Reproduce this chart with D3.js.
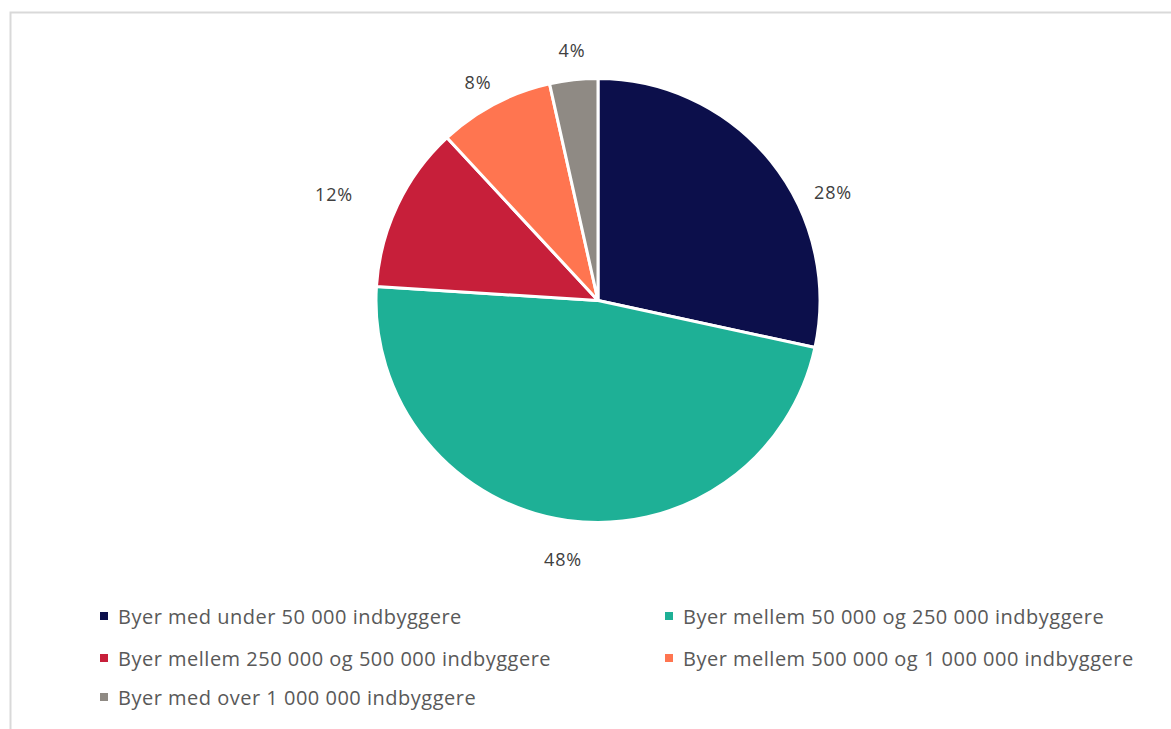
<!DOCTYPE html>
<html><head><meta charset="utf-8">
<script src="https://cdn.jsdelivr.net/npm/d3@7"></script>
<style>body{margin:0;background:#fff;}svg{display:block;}</style>
</head><body><svg id="c" width="1171" height="729"></svg>
<script>
const categories = [
  "Byer med under 50 000 indbyggere",
  "Byer mellem 50 000 og 250 000 indbyggere",
  "Byer mellem 250 000 og 500 000 indbyggere",
  "Byer mellem 500 000 og 1 000 000 indbyggere",
  "Byer med over 1 000 000 indbyggere"
];
const values = [28.4, 47.6, 12.1, 8.4, 3.5];
const labels = ["28%", "48%", "12%", "8%", "4%"];
const colors = ["#0c0f4b", "#1eb096", "#c71f3a", "#ff7550", "#8f8a84"];

const svg = d3.select("#c");
const font = "'Open Sans', sans-serif";

// frame
svg.append("rect").attr("x", 10.5).attr("y", 12.5).attr("width", 1170).attr("height", 730)
  .attr("fill", "none").attr("stroke", "#d9d9d9").attr("stroke-width", 2);

const cx = 598, cy = 300.5, R = 222;
const pie = d3.pie().sort(null).value(d => d)(values);
const arc = d3.arc().innerRadius(0).outerRadius(R);
const g = svg.append("g").attr("transform", `translate(${cx},${cy})`);
g.selectAll("path").data(pie).join("path")
  .attr("d", arc).attr("fill", (d, i) => colors[i])
  .attr("stroke", "#fff").attr("stroke-width", 3).attr("stroke-linejoin", "round");

const labelPos = [[833, 192], [563, 559], [334, 194], [478, 82], [572, 50]];
g.selectAll("text.lbl").data(pie).join("text").attr("class", "lbl")
  .attr("x", (d, i) => labelPos[i][0] - cx)
  .attr("y", (d, i) => labelPos[i][1] - cy)
  .attr("text-anchor", "middle").attr("dominant-baseline", "central")
  .attr("font-family", font).attr("font-size", 18).attr("letter-spacing", 0.8).attr("fill", "#404040")
  .text((d, i) => labels[i]);

// legend
const legPos = [[100, 616], [665, 616], [100, 658], [665, 658], [100, 697]];
const leg = svg.append("g");
categories.forEach((c, i) => {
  const [x, y] = legPos[i];
  leg.append("rect").attr("x", x).attr("y", y - 4).attr("width", 8).attr("height", 8).attr("fill", colors[i]);
  leg.append("text").attr("x", x + 18).attr("y", y).attr("dominant-baseline", "central")
    .attr("font-family", font).attr("font-size", 20).attr("letter-spacing", 0.5).attr("fill", "#595959").text(c);
});
</script></body></html>
